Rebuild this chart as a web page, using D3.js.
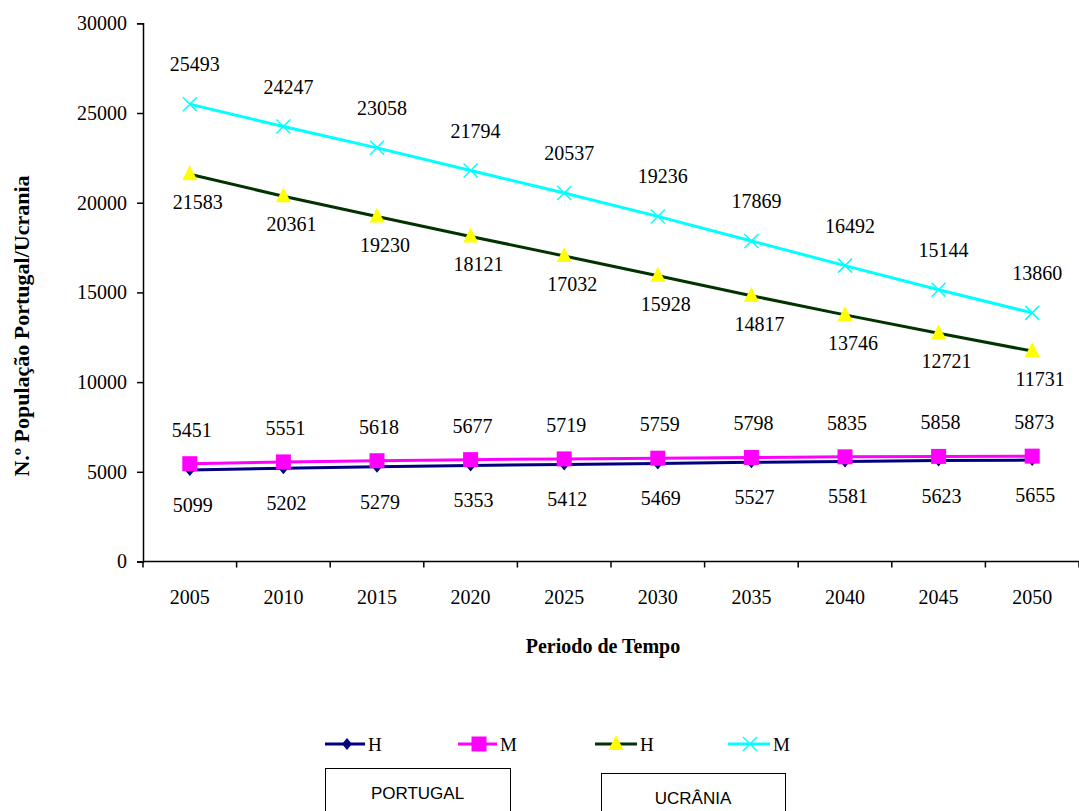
<!DOCTYPE html>
<html>
<head>
<meta charset="utf-8">
<script src="https://cdn.jsdelivr.net/npm/d3@7"></script>
<style>
  html, body { margin: 0; padding: 0; background: #fff; }
  svg { display: block; }
  text { font-family: "Liberation Serif", "Times New Roman", serif; fill: #000; }
</style>
</head>
<body>
<svg id="chart" width="1079" height="811"></svg>
<script>
// Population projections, 2005–2050
const years = ["2005", "2010", "2015", "2020", "2025", "2030", "2035", "2040", "2045", "2050"];
const portugalH = [5099, 5202, 5279, 5353, 5412, 5469, 5527, 5581, 5623, 5655];
const portugalM = [5451, 5551, 5618, 5677, 5719, 5759, 5798, 5835, 5858, 5873];
const ucraniaH = [21583, 20361, 19230, 18121, 17032, 15928, 14817, 13746, 12721, 11731];
const ucraniaM = [25493, 24247, 23058, 21794, 20537, 19236, 17869, 16492, 15144, 13860];
const yTicks = [0, 5000, 10000, 15000, 20000, 25000, 30000];

const W = 1079;
const svg = d3.select("#chart");

const x = d3.scaleBand().domain(years).range([143, 1079]).padding(0);
const y = d3.scaleLinear().domain([0, 30000]).range([561.5, 23.3]);

// axes
const yAxis = d3.axisLeft(y).tickValues(yTicks).tickSize(6).tickPadding(10).tickFormat(d3.format("d"));
const gy = svg.append("g").attr("transform", "translate(143,0)").call(yAxis);
gy.attr("font-family", null);
gy.select(".domain").attr("stroke", "#000").attr("stroke-width", 1.5);
gy.selectAll(".tick line").attr("stroke", "#000").attr("stroke-width", 1.5);
gy.selectAll(".tick text").style("font-family", "'Liberation Serif', serif").style("font-size", "20px").attr("fill", "#000");

// x axis with ticks on category boundaries
const gx = svg.append("g").attr("transform", "translate(0," + y(0) + ")");
gx.append("line").attr("x1", 143).attr("x2", W).attr("stroke", "#000").attr("stroke-width", 1.5);
const bounds = years.map(d => x(d)).concat([x(years[years.length - 1]) + x.bandwidth()]);
gx.selectAll("line.tk").data(bounds).enter().append("line")
  .attr("class", "tk")
  .attr("x1", d => d).attr("x2", d => d)
  .attr("y1", 0).attr("y2", 6)
  .attr("stroke", "#000").attr("stroke-width", 1.5);
gx.selectAll("text").data(years).enter().append("text")
  .attr("x", d => x(d) + x.bandwidth() / 2)
  .attr("y", 42)
  .attr("text-anchor", "middle")
  .style("font-size", "20px")
  .text(d => d);

// axis titles
svg.append("text")
  .attr("x", 603).attr("y", 653)
  .attr("text-anchor", "middle")
  .style("font-size", "20px").style("font-weight", "bold")
  .text("Periodo de Tempo");
svg.append("text")
  .attr("transform", "translate(29,326) rotate(-90)")
  .attr("text-anchor", "middle")
  .style("font-size", "22px").style("font-weight", "bold")
  .text("N.º População Portugal/Ucrania");

const cx = d => x(d) + x.bandwidth() / 2;

const series = [
  { values: portugalH, line: "#000080", marker: "diamond", fill: "#000080", labelDy: 35, labelDx: 3 },
  { values: portugalM, line: "#ff00ff", marker: "square", fill: "#ff00ff", labelDy: -34, labelDx: 2 },
  { values: ucraniaH, line: "#003300", marker: "triangle", fill: "#ffff00", labelDy: 28, labelDx: 8 },
  { values: ucraniaM, line: "#00ffff", marker: "cross", fill: "#00ffff", labelDy: -40, labelDx: 5 }
];

function drawMarker(g, type, color, px, py) {
  if (type === "diamond") {
    g.append("path").attr("d", `M${px},${py - 6}L${px + 5},${py}L${px},${py + 6}L${px - 5},${py}Z`).attr("fill", color);
  } else if (type === "square") {
    g.append("rect").attr("x", px - 7.5).attr("y", py - 7.5).attr("width", 15).attr("height", 15).attr("fill", color);
  } else if (type === "triangle") {
    g.append("path").attr("d", `M${px},${py - 9}L${px + 7.5},${py + 6}L${px - 7.5},${py + 6}Z`).attr("fill", color);
  } else if (type === "cross") {
    g.append("path").attr("d", `M${px - 7},${py - 7}L${px + 7},${py + 7}M${px + 7},${py - 7}L${px - 7},${py + 7}`)
      .attr("stroke", color).attr("stroke-width", 1.5).attr("fill", "none");
  }
}

const lineGen = d3.line().x((d, i) => cx(years[i])).y(d => y(d));

series.forEach(s => {
  const g = svg.append("g");
  g.append("path").datum(s.values).attr("d", lineGen)
    .attr("fill", "none").attr("stroke", s.line).attr("stroke-width", 3);
  s.values.forEach((v, i) => drawMarker(g, s.marker, s.fill, cx(years[i]), y(v)));
});

// data labels
series.forEach(s => {
  const g = svg.append("g");
  s.values.forEach((v, i) => {
    const t = g.append("text")
      .attr("y", y(v) + s.labelDy)
      .attr("dy", "0.35em")
      .attr("text-anchor", "middle")
      .style("font-size", "20px")
      .text(v);
    const half = t.node().getComputedTextLength() / 2;
    t.attr("x", Math.min(cx(years[i]) + s.labelDx, W - half - 3));
  });
});

// legend
const legendItems = [
  { x1: 325, x2: 365, mx: 347, color: "#000080", marker: "diamond", fill: "#000080", label: "H" },
  { x1: 458, x2: 497, mx: 479, color: "#ff00ff", marker: "square", fill: "#ff00ff", label: "M" },
  { x1: 595, x2: 637, mx: 616, color: "#003300", marker: "triangle", fill: "#ffff00", label: "H" },
  { x1: 728, x2: 770, mx: 750, color: "#00ffff", marker: "cross", fill: "#00ffff", label: "M" }
];
const lg = svg.append("g");
const ly = 744;
legendItems.forEach(it => {
  lg.append("line").attr("x1", it.x1).attr("x2", it.x2).attr("y1", ly).attr("y2", ly)
    .attr("stroke", it.color).attr("stroke-width", 3);
  drawMarker(lg, it.marker, it.fill, it.mx, ly);
  lg.append("text").attr("x", it.x2 + 3).attr("y", ly).attr("dy", "0.35em")
    .style("font-size", "19px").text(it.label);
});

const boxes = [
  { x: 325, y: 768, w: 185, label: "PORTUGAL", ty: 793 },
  { x: 601, y: 773, w: 184, label: "UCRÂNIA", ty: 798 }
];
boxes.forEach(b => {
  lg.append("rect").attr("x", b.x + 0.5).attr("y", b.y + 0.5).attr("width", b.w).attr("height", 60)
    .attr("fill", "#fff").attr("stroke", "#000").attr("stroke-width", 1);
  lg.append("text").attr("x", b.x + b.w / 2).attr("y", b.ty).attr("dy", "0.35em")
    .attr("text-anchor", "middle")
    .style("font-family", "'Liberation Sans', Arial, sans-serif").style("font-size", "17px")
    .text(b.label);
});
</script>
</body>
</html>
